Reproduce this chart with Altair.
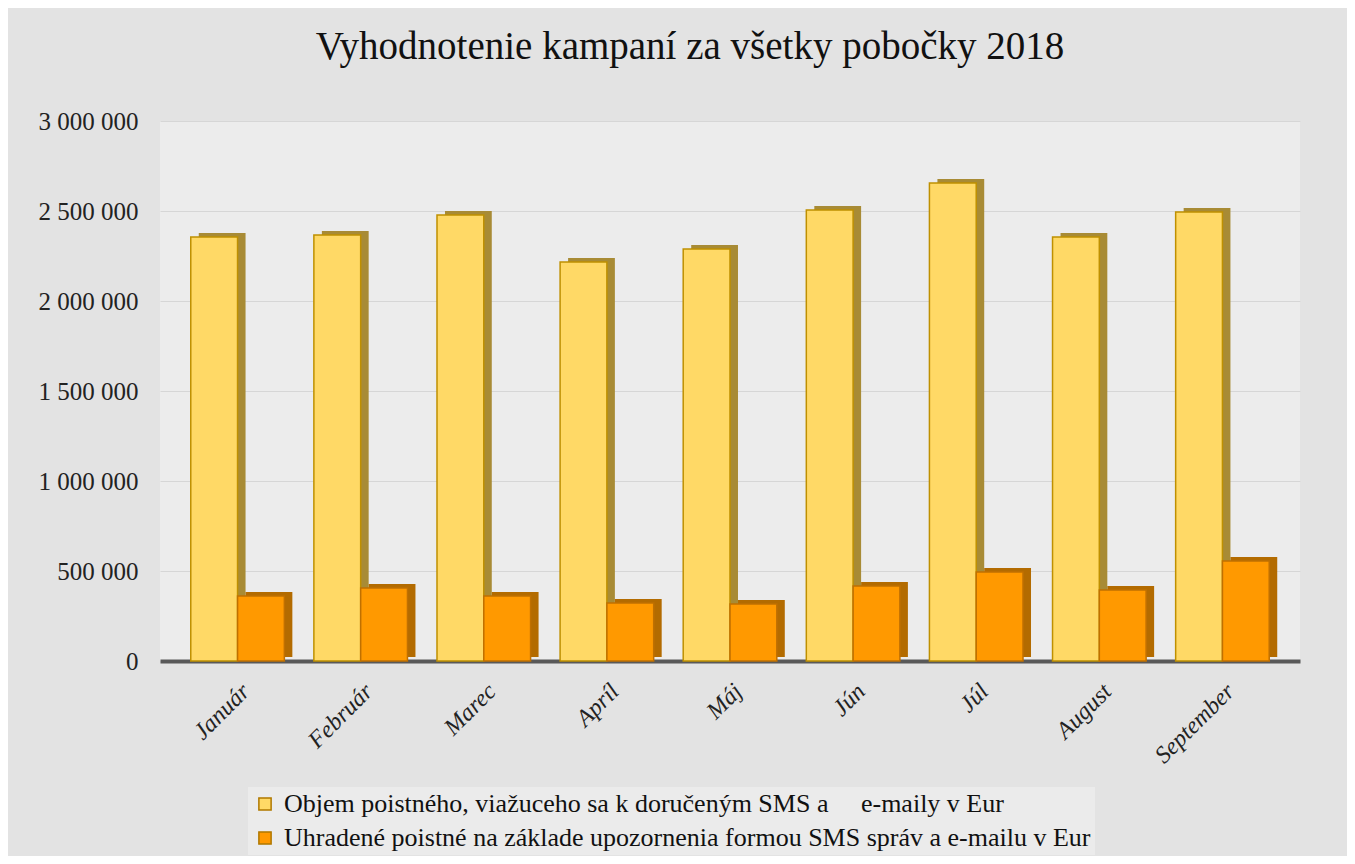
import altair as alt
import pandas as pd

months = ["Január", "Február", "Marec", "Apríl", "Máj", "Jún", "Júl", "August", "September"]
objem = [2356000, 2367000, 2478000, 2217000, 2289000, 2506000, 2656000, 2356000, 2494000]
uhradene = [361000, 406000, 361000, 322000, 317000, 417000, 494000, 394000, 556000]

s1 = "Objem poistného, viažuceho sa k doručeným SMS a \u00a0\u00a0\u00a0 e-maily v Eur"
s2 = "Uhradené poistné na základe upozornenia formou SMS správ a e-mailu v Eur"
series = [s1, s2]
front_colors = ["#FFD966", "#FF9900"]
side_colors = ["#A88B35", "#B36B00"]
stroke_colors = ["#BF9000", "#C07000"]
half_offsets = [-23.4, 23.4]

df = pd.DataFrame({
    "month": months * 2,
    "series": [s1] * len(months) + [s2] * len(months),
    "value": objem + uhradene,
})

yaxis = alt.Axis(values=[0, 500000, 1000000, 1500000, 2000000, 2500000, 3000000],
                 labelExpr="replace(format(datum.value, ',d'), /,/g, ' ')",
                 labelFont="Liberation Serif", labelFontSize=25, labelColor="#222222",
                 ticks=False, domain=False, labelPadding=22,
                 gridColor="#D6D6D6", gridWidth=1)
xaxis = alt.Axis(labelAngle=-45, labelFont="Liberation Serif", labelFontSize=24,
                 labelFontStyle="italic",
                 labelColor="#222222", ticks=False, domainColor="#595959",
                 domainWidth=4, labelPadding=18, grid=False)
xscale = alt.Scale(paddingInner=0.24, paddingOuter=0.25)
yscale = alt.Scale(domain=[0, 3000000], nice=False)


def layer(idx, is_side):
    sub = df[df["series"] == series[idx]]
    x = alt.X("month:N", sort=months, title=None, scale=xscale, axis=xaxis)
    y = alt.Y("value:Q", title=None, scale=yscale, axis=yaxis)
    if is_side:
        mark = alt.Chart(sub).mark_bar(width=alt.RelativeBandSize(0.5),
                                       xOffset=half_offsets[idx] + 8, yOffset=-4,
                                       color=side_colors[idx], strokeWidth=0)
        return mark.encode(x=x, y=y)
    mark = alt.Chart(sub).mark_bar(width=alt.RelativeBandSize(0.5), xOffset=half_offsets[idx],
                                   stroke=stroke_colors[idx], strokeWidth=1.5)
    return mark.encode(
        x=x, y=y,
        color=alt.Color("series:N", sort=series,
                        scale=alt.Scale(domain=series, range=front_colors),
                        legend=alt.Legend(title=None, orient="none", legendX=88, legendY=666,
                                          direction="vertical", labelFont="Liberation Serif",
                                          labelFontSize=26, labelColor="#111111", labelLimit=1200,
                                          symbolType="square", symbolSize=150,
                                          symbolStrokeColor="#B07800", symbolStrokeWidth=1.5,
                                          fillColor="#EBEBEB", padding=4, rowPadding=8,
                                          labelOffset=6)),
    )


chart = alt.layer(layer(0, True), layer(0, False), layer(1, True), layer(1, False)).properties(
    width=1140, height=540,
    title=alt.TitleParams("Vyhodnotenie kampaní za všetky pobočky 2018",
                          font="Liberation Serif", fontSize=39, fontWeight="normal",
                          color="#111111", anchor="middle", offset=42, dx=-40),
    autosize=alt.AutoSizeParams(type="none"),
    padding={"left": 152, "top": 113, "right": 47, "bottom": 195},
    background="#E3E3E3",
).configure(
    font="Liberation Serif",
).configure_view(
    stroke=None,
    fill="#ECECEC",
).configure_legend(
    labelFont="Liberation Serif",
)

chart.save("out.html", embed_options={"renderer": "svg", "actions": False})
